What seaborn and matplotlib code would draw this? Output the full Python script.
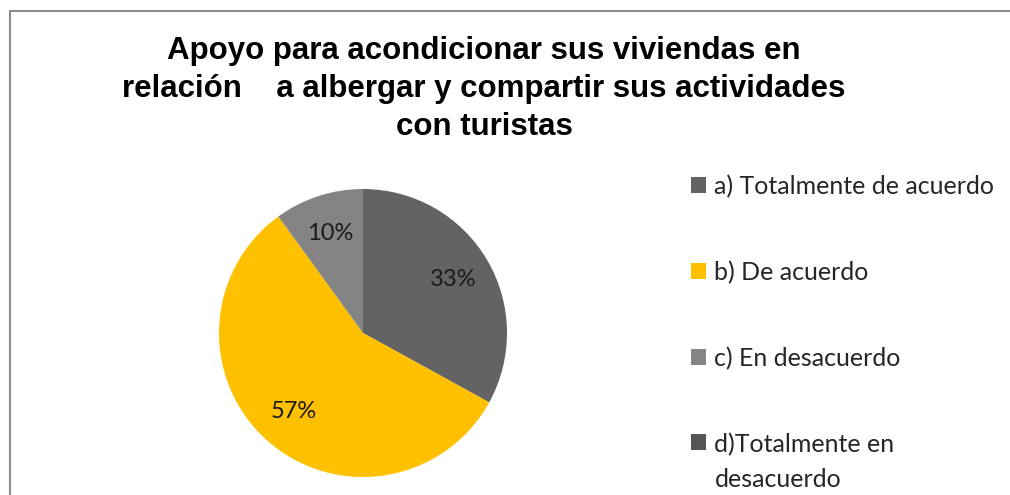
import matplotlib.pyplot as plt
import seaborn as sns
from matplotlib.patches import Rectangle

TITLE = ("Apoyo para acondicionar sus viviendas en\n"
         "relación    a albergar y compartir sus actividades\n"
         "con turistas")
categories = [
    "a) Totalmente de acuerdo",
    "b) De acuerdo",
    "c) En desacuerdo",
    "d)Totalmente en\ndesacuerdo",
]
shares = [33, 57, 10, 0]
colors = ["#636363", "#FFC000", "#848484", "#555555"]


def _pct(value: float) -> str:
    return "" if value < 0.5 else f"{value:.0f}%"


sns.set_theme(style="white")
plt.rcParams["font.family"] = ["Lato", "DejaVu Sans"]

fig = plt.figure(figsize=(10.1, 4.95), dpi=100)
fig.patches.append(
    Rectangle((10 / 1010, -0.1), 1.2, (495 - 11) / 495 + 0.1,
              transform=fig.transFigure, fill=False,
              edgecolor="#8c8c8c", linewidth=1.5)
)

ax = fig.add_axes([219 / 1010, 18 / 495, 288 / 1010, 288 / 495])
wedges, _, autotexts = ax.pie(
    shares,
    colors=colors,
    startangle=90,
    counterclock=False,
    autopct=_pct,
    pctdistance=0.73,
    textprops={"fontsize": 17, "color": "#1a1a1a"},
    wedgeprops={"linewidth": 0},
)
ax.set_xlim(-1, 1)
ax.set_ylim(-1, 1)
ax.set_aspect("equal")

fig.text(484 / 1010, 1 - 89 / 495, TITLE, ha="center", va="center",
         fontsize=22.5, fontweight="bold", family="Liberation Sans",
         linespacing=1.36, color="black")

leg = fig.legend(
    wedges,
    categories,
    loc="upper left",
    bbox_to_anchor=(668 / 1010, 1 - 152 / 495),
    frameon=False,
    fontsize=18,
    handlelength=0.6,
    handleheight=0.6,
    handletextpad=0.36,
    labelspacing=2.51,
)
# two-line entry: keep the square level with its first line
leg.get_texts()[3].set_linespacing(1.65)
last = leg.legend_handles[3]
last.set_y(last.get_y() + 0.7 * 18 + 2)

fig.savefig("out.png", dpi=100)
